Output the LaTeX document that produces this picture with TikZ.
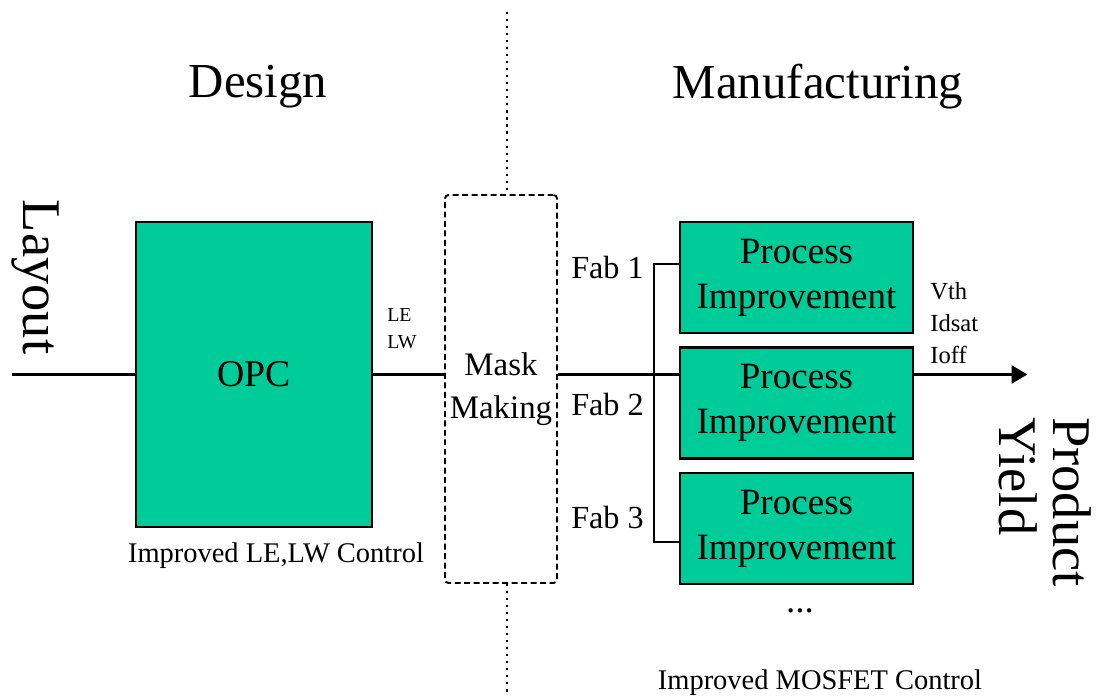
\documentclass[tikz,border=0pt]{standalone}
\usepackage{fontspec}
\setmainfont{Liberation Serif}
\usepackage{tikz}
\usetikzlibrary{arrows.meta,positioning,calc}
\definecolor{procgreen}{RGB}{0,204,153}

\begin{document}
\begin{tikzpicture}[
  every node/.style={align=center},
  headlab/.style={font=\fontsize{27.8}{30}\selectfont, inner sep=0pt},
  sidelab/.style={font=\fontsize{31}{30.6}\selectfont, inner sep=0pt, rotate=-90, align=left},
  opcbox/.style={rectangle, draw, line width=1.2pt, fill=procgreen,
                 minimum width=4.72cm, minimum height=6.1cm, inner sep=0pt,
                 font=\fontsize{21.5}{24}\selectfont},
  procbox/.style={rectangle, draw, line width=1.2pt, fill=procgreen,
                  minimum width=4.66cm, minimum height=2.22cm, inner sep=0pt,
                  font=\fontsize{21.1}{27.8}\selectfont},
  maskbox/.style={rectangle, rounded corners=2pt, draw, line width=1.1pt,
                  dash pattern=on 3.4pt off 2pt,
                  minimum width=2.24cm, minimum height=7.76cm, inner sep=0pt,
                  font=\fontsize{18.7}{24.4}\selectfont},
  fablab/.style={font=\fontsize{18.3}{20}\selectfont, inner sep=0pt},
  paramlab/.style={inner sep=0pt, align=left},
  notelab/.style={font=\fontsize{16.2}{18}\selectfont, inner sep=0pt},
  mainline/.style={line width=1.8pt},
  divider/.style={line width=1.2pt, dash pattern=on 1.2pt off 2.8pt},
  >={Triangle[length=9pt, width=10pt]}
]
\useasboundingbox (0,0) rectangle (21.94,13.92);

% Headings
\node[headlab] (design) at (5.16, 12.18) {Design};
\node[headlab] (manuf)  at (16.36, 12.18) {Manufacturing};

% Design side
\node[sidelab] (layout) at (0.70, 8.38) {Layout};
\node[opcbox] (opc) at (5.08, 6.43) {OPC};
\node[paramlab, font=\fontsize{11.3}{15.3}\selectfont] (lelw) at (8.04, 7.34) {LE\\LW};
\node[notelab] (lecontrol) at (5.52, 2.80) {Improved LE,LW Control};

% Mask in the middle
\node[maskbox] (mask) at (10.02, 6.14) {Mask\\Making};
\coordinate (divtop) at (10.14, 13.68);
\coordinate (divbot) at (10.14, 0);

% Fabs
\node[procbox] (proc1) at (15.93, 8.37) {\raisebox{-2pt}{Process}\\Improvement};
\node[procbox] (proc2) at (15.93, 5.86) {\raisebox{-2pt}{Process}\\Improvement};
\node[procbox] (proc3) at (15.93, 3.35) {\raisebox{-2pt}{Process}\\Improvement};
\node[fablab, anchor=east] (fab1) at (12.88, 8.56) {Fab 1};
\node[fablab, anchor=east] (fab2) at (12.88, 5.82) {Fab 2};
\node[fablab, anchor=east] (fab3) at (12.88, 3.56) {Fab 3};
\node[font=\fontsize{21}{24}\selectfont, inner sep=0pt] (more) at (16.0, 1.70) {...};
\node[notelab] (moscontrol) at (16.4, 0.26) {Improved MOSFET Control};

% Outputs
\node[paramlab, font=\fontsize{14}{18}\selectfont, anchor=west] (params) at (18.6, 7.46) {Vth\\Idsat\\Ioff};
\node[sidelab] (yield) at (20.9, 3.88) {Product\\Yield};

% Design / manufacturing divider
\draw[divider] (divtop) -- (mask.north -| divtop);
\draw[divider] (mask.south -| divbot) -- (divbot);

% Main flow
\coordinate (layin)    at (0.24, 6.43);
\coordinate (yieldout) at (20.55, 6.43);
\draw[mainline] (layin) -- (opc.west);
\draw[mainline] (opc.east) -- (mask.west |- opc.east);
\draw[mainline] (mask.east |- opc.east) -- (proc2.west |- opc.east);
\draw[mainline, ->] (proc2.east |- opc.east) -- (yieldout);

% Fab bracket
\draw[line width=1.1pt] ([yshift=0.27cm]proc1.west) -- ++(-0.5,0) |- ([yshift=-0.27cm]proc3.west);

\end{tikzpicture}
\end{document}
